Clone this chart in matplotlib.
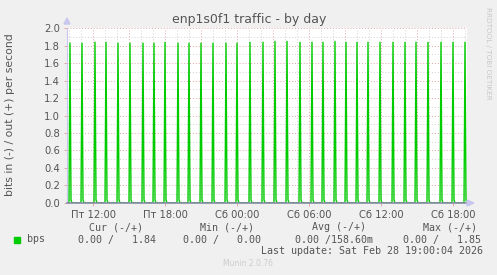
import numpy as np
import matplotlib
matplotlib.use("Agg")
import matplotlib.pyplot as plt
from matplotlib.ticker import FixedLocator

# ----------------------------------------------------------------
# data (hours since Fri 00:00)
# ----------------------------------------------------------------
spike_hours = [10.08, 11.08, 12.17, 13.08, 14.08, 15.08, 16.17, 17.08, 18.0,
               19.08, 20.0, 21.0, 22.0, 23.08, 24.0, 25.08, 26.17, 27.17,
               28.17, 29.25, 30.25, 31.17, 32.17, 33.08, 34.0, 34.92, 35.92,
               37.0, 38.0, 38.92, 39.92, 41.0, 42.0, 43.0]
spike_values = [1.83, 1.83, 1.84, 1.84, 1.83, 1.83, 1.83, 1.83, 1.84, 1.83,
                1.83, 1.83, 1.83, 1.83, 1.83, 1.84, 1.84, 1.85, 1.85, 1.84,
                1.84, 1.84, 1.85, 1.84, 1.84, 1.84, 1.84, 1.84, 1.84, 1.84,
                1.84, 1.84, 1.84, 1.84]
tail_value = 0.03          # small sample right after every spike
base_value = 0.0           # everything else is idle

x_ticks = [12, 18, 24, 30, 36, 42]
x_ticklabels = ["Пт 12:00", "Пт 18:00", "Сб 00:00", "Сб 06:00", "Сб 12:00", "Сб 18:00"]
y_ticks = [0.0, 0.2, 0.4, 0.6, 0.8, 1.0, 1.2, 1.4, 1.6, 1.8, 2.0]
y_ticklabels = ["0.0", "0.2", "0.4", "0.6", "0.8", "1.0", "1.2", "1.4", "1.6", "1.8", "2.0"]

title = "enp1s0f1 traffic - by day"
ylabel = "bits in (-) / out (+) per second"
legend_name = "bps"
legend_cols = ["Cur (-/+)", "Min (-/+)", "Avg (-/+)", "Max (-/+)"]
legend_vals = ["0.00 /   1.84", "0.00 /   0.00", "0.00 /158.60m", "0.00 /   1.85"]
last_update = "Last update: Sat Feb 28 19:00:04 2026"
footer = "Munin 2.0.76"
watermark = "RRDTOOL / TOBI OETIKER"

t_start, t_end = 9.80, 43.133
step = 5 / 60.0

# 5-minute sample series
t = np.arange(t_start, t_end + step, step)
y = np.full(t.shape, base_value)
for h, v in zip(spike_hours, spike_values):
    i = int(round((h - t_start) / step))
    if 0 <= i < len(y):
        y[i] = v
    if i + 1 < len(y):
        y[i + 1] = tail_value

# ----------------------------------------------------------------
# figure
# ----------------------------------------------------------------
W, H = 497, 275
BG = "#f0f0f0"
TXT = "#555555"
GREEN = "#00cc00"
MAJ = "#e4a8a8"
MIN = "#d2d2d2"

fig = plt.figure(figsize=(W / 100, H / 100), dpi=100, facecolor=BG)
ax = fig.add_axes([67 / W, 1 - 202.7 / H, 400 / W, (202.7 - 28.3) / H])
ax.set_facecolor("white")

ax.plot(t, y, color=GREEN, lw=1.0, zorder=3)

ax.set_xlim(t_start, t_end)
ax.set_ylim(0, 2.0)

ax.xaxis.set_major_locator(FixedLocator(x_ticks))
ax.set_xticklabels(x_ticklabels)
ax.yaxis.set_major_locator(FixedLocator(y_ticks))
ax.set_yticklabels(y_ticklabels)

# grid: minor grey every hour / 0.1, major red every 3h / 0.2
for h in np.arange(10, 44, 1):
    ax.axvline(h, color=MAJ if h % 3 == 0 else MIN, lw=0.7,
               ls=(0, (1, 2)), zorder=1)
for k in range(1, 21):
    ax.axhline(k / 10, color=MAJ if k % 2 == 0 else MIN, lw=0.7,
               ls=(0, (1, 2)), zorder=1)

ax.tick_params(axis="both", which="major", length=2, width=0.7, color=MAJ,
               labelsize=7.2, labelcolor=TXT, pad=3)

for s in ("top", "right"):
    ax.spines[s].set_visible(False)
ax.spines["left"].set_color("#c8c8ee")
ax.spines["bottom"].set_color("#8a8aa8")
ax.spines["left"].set_linewidth(0.8)
ax.spines["bottom"].set_linewidth(1.2)
ax.spines["bottom"].set_zorder(4)
ax.spines["left"].set_zorder(4)

# axis arrows
fig.patches.append(plt.Polygon([(64 / W, 1 - 24 / H), (70 / W, 1 - 24 / H), (67 / W, 1 - 18 / H)],
                               closed=True, transform=fig.transFigure, color="#c8c8ee"))
fig.patches.append(plt.Polygon([(467 / W, 1 - 200 / H), (467 / W, 1 - 206 / H), (474 / W, 1 - 203 / H)],
                               closed=True, transform=fig.transFigure, color="#c8c8ee"))


def fx(px):
    return px / W


def fy(py):
    return 1 - py / H


fig.text(fx(249), fy(19), title, ha="center", va="center", fontsize=9.0, color=TXT)
fig.text(fx(10), fy(115), ylabel, ha="center", va="center", rotation=90,
         fontsize=7.8, color=TXT)
fig.text(fx(488), fy(53), watermark, ha="center", va="center", rotation=270,
         fontsize=5.2, color="#c8c8c8")

mono = dict(family="DejaVu Sans Mono", fontsize=7.2, color=TXT, va="center")
fig.patches.append(plt.Rectangle((fx(14), fy(242.5)), 6 / W, 6 / H,
                                 transform=fig.transFigure, color=GREEN))
fig.text(fx(27), fy(239.5), legend_name, ha="left", **mono)
head_x = [89, 200, 312, 423]
val_x = [78, 183, 295, 403]
for hx, vx, hd, vl in zip(head_x, val_x, legend_cols, legend_vals):
    fig.text(fx(hx), fy(227.5), hd, ha="left", **mono)
    fig.text(fx(vx), fy(239.5), vl, ha="left", **mono)
fig.text(fx(483), fy(251), last_update, ha="right", **mono)
fig.text(fx(248), fy(264), footer, ha="center", va="center", fontsize=5.5,
         color="#cccccc")

fig.savefig("out.png", dpi=100, facecolor=BG)
